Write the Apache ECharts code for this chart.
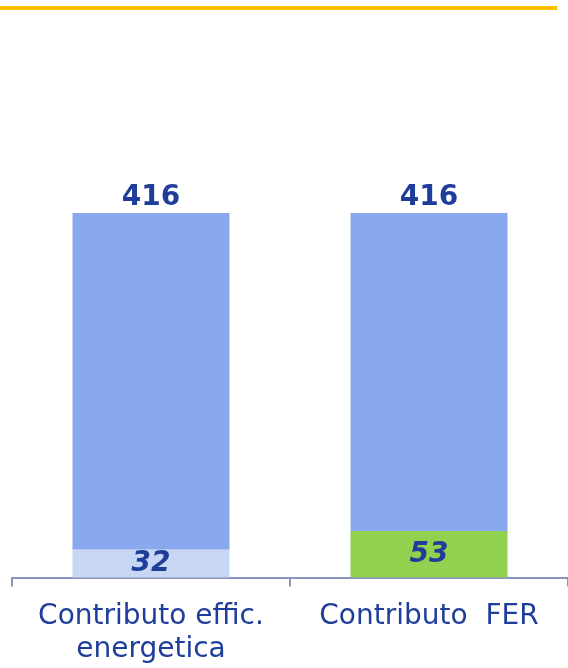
<!DOCTYPE html>
<html>
<head>
<meta charset="utf-8">
<script src="https://cdn.jsdelivr.net/npm/echarts@6/dist/echarts.min.js"></script>
<style>
html,body{margin:0;padding:0;background:#fff;}
#chart{width:568px;height:668px;}
</style>
</head>
<body>
<div id="chart"></div>
<script>
const categories = ['Contributo effic.\nenergetica', 'Contributo  FER'];
const totals = [416, 416];
const contributions = [32, 53];
const contributionColors = ['#c7d7f3', '#92d050'];

const rest = totals.map((t, i) => t - contributions[i]);
const labelColor = '#1f3e9c';
const font = 'DejaVu Sans';

const chart = echarts.init(document.getElementById('chart'));
chart.setOption({
  animation: false,
  backgroundColor: '#ffffff',
  graphic: [{
    type: 'rect',
    shape: { x: 0, y: 6, width: 557, height: 4 },
    style: { fill: '#ffc000' }
  }],
  grid: { left: 12, right: -2, top: 213, bottom: 90.5, containLabel: false },
  xAxis: {
    type: 'category',
    data: categories,
    axisLine: { lineStyle: { color: '#8b93c0', width: 2 } },
    axisTick: { show: true, length: 9, lineStyle: { color: '#8b93c0', width: 2 } },
    axisLabel: {
      color: labelColor, fontSize: 28, fontFamily: font,
      lineHeight: 33, margin: 23, interval: 0
    }
  },
  yAxis: { type: 'value', min: 0, max: 416, show: false, splitLine: { show: false } },
  series: [
    {
      type: 'bar', stack: 's', barWidth: 157,
      data: contributions.map((v, i) => ({ value: v, itemStyle: { color: contributionColors[i] } })),
      label: {
        show: true, position: 'inside', color: labelColor,
        fontSize: 28, fontWeight: 'bold', fontStyle: 'italic', fontFamily: font
      }
    },
    {
      type: 'bar', stack: 's', barWidth: 157,
      data: rest,
      itemStyle: { color: '#8aa8ee' },
      label: {
        show: true, position: 'top', distance: 1, color: labelColor,
        fontSize: 28, fontWeight: 'bold', fontFamily: font,
        formatter: p => String(totals[p.dataIndex])
      }
    }
  ]
});
</script>
</body>
</html>
